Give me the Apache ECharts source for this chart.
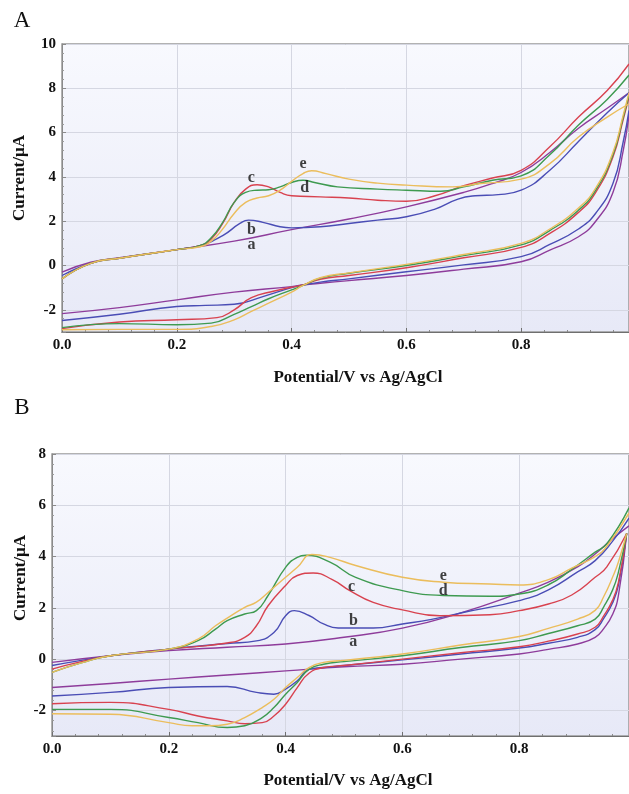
<!DOCTYPE html>
<html><head><meta charset="utf-8">
<script src="https://cdn.jsdelivr.net/npm/echarts@6/dist/echarts.min.js"></script>
<style>html,body{margin:0;padding:0;background:#fff}#c{width:629px;height:794px}</style>
</head><body><div id="c"></div>
<script>
// ---------- Panel A data (Potential V, Current µA) ----------
const A_a_fwd = [[0,-0.3],[0.05,0.15],[0.1,0.35],[0.2,0.72],[0.3,1.1],[0.4,1.62],[0.5,2.1],[0.6,2.65],[0.7,3.3],[0.75,3.7],[0.8,4.2],[0.85,5.1],[0.9,6.2],[0.95,7.1],[0.988,7.8]];
const A_a_rev = [[0.988,6.8],[0.978,5.2],[0.96,3.3],[0.93,2.0],[0.9,1.3],[0.85,0.7],[0.8,0.17],[0.7,-0.16],[0.6,-0.45],[0.5,-0.68],[0.45,-0.8],[0.42,-0.88],[0.4,-0.95],[0.3,-1.2],[0.2,-1.55],[0.1,-1.9],[0,-2.17]];
const A_b_fwd = [[0,-0.45],[0.05,0.1],[0.1,0.33],[0.2,0.72],[0.24,0.9],[0.28,1.35],[0.31,1.9],[0.325,2.05],[0.35,1.95],[0.38,1.75],[0.4,1.7],[0.45,1.75],[0.5,1.9],[0.55,2.05],[0.6,2.2],[0.65,2.55],[0.69,3.0],[0.72,3.15],[0.76,3.2],[0.8,3.4],[0.85,4.3],[0.9,5.6],[0.95,6.9],[0.988,7.8]];
const A_b_rev = [[0.988,7.0],[0.978,5.6],[0.96,3.7],[0.93,2.36],[0.9,1.65],[0.85,0.95],[0.8,0.4],[0.7,0.03],[0.6,-0.28],[0.5,-0.6],[0.45,-0.75],[0.42,-0.88],[0.4,-1.0],[0.35,-1.4],[0.3,-1.75],[0.25,-1.8],[0.2,-1.85],[0.1,-2.2],[0,-2.48]];
const A_c_fwd = [[0,-0.6],[0.05,0.1],[0.1,0.33],[0.2,0.72],[0.24,0.9],[0.26,1.2],[0.28,1.9],[0.3,2.85],[0.32,3.45],[0.34,3.65],[0.36,3.55],[0.38,3.3],[0.4,3.15],[0.45,3.1],[0.5,3.05],[0.55,2.95],[0.6,2.9],[0.65,3.15],[0.7,3.6],[0.75,3.95],[0.8,4.3],[0.85,5.36],[0.9,6.7],[0.95,7.9],[0.988,9.1]];
const A_c_rev = [[0.988,7.6],[0.978,6.6],[0.96,4.9],[0.93,3.3],[0.9,2.4],[0.85,1.45],[0.8,0.82],[0.7,0.35],[0.6,-0.1],[0.5,-0.45],[0.45,-0.62],[0.42,-0.88],[0.4,-0.98],[0.37,-1.15],[0.33,-1.45],[0.3,-2.0],[0.27,-2.35],[0.2,-2.45],[0.1,-2.55],[0,-2.85]];
const A_d_fwd = [[0,-0.6],[0.05,0.1],[0.1,0.33],[0.2,0.72],[0.24,0.9],[0.26,1.25],[0.28,1.95],[0.3,2.85],[0.32,3.3],[0.34,3.4],[0.36,3.42],[0.38,3.55],[0.4,3.75],[0.42,3.85],[0.44,3.75],[0.48,3.55],[0.55,3.45],[0.6,3.4],[0.66,3.35],[0.7,3.55],[0.75,3.85],[0.8,4.05],[0.85,5.0],[0.9,6.34],[0.95,7.5],[0.988,8.6]];
const A_d_rev = [[0.988,7.7],[0.978,6.7],[0.96,5.0],[0.93,3.4],[0.9,2.5],[0.85,1.58],[0.8,0.93],[0.7,0.45],[0.6,0.0],[0.5,-0.35],[0.45,-0.57],[0.42,-0.9],[0.4,-1.1],[0.36,-1.5],[0.33,-1.85],[0.3,-2.2],[0.26,-2.6],[0.2,-2.67],[0.1,-2.62],[0,-2.8]];
const A_e_fwd = [[0,-0.6],[0.05,0.1],[0.1,0.33],[0.2,0.72],[0.24,0.85],[0.26,1.1],[0.28,1.65],[0.3,2.35],[0.32,2.85],[0.34,3.05],[0.36,3.15],[0.38,3.4],[0.4,3.8],[0.42,4.15],[0.435,4.28],[0.46,4.15],[0.5,3.9],[0.55,3.72],[0.6,3.63],[0.68,3.55],[0.73,3.7],[0.8,3.9],[0.85,4.6],[0.9,5.8],[0.95,6.7],[0.988,7.3]];
const A_e_rev = [[0.988,7.8],[0.978,6.8],[0.96,5.1],[0.93,3.5],[0.9,2.6],[0.85,1.65],[0.8,1.0],[0.7,0.5],[0.6,0.05],[0.5,-0.33],[0.45,-0.55],[0.42,-0.9],[0.4,-1.2],[0.36,-1.7],[0.33,-2.07],[0.3,-2.45],[0.26,-2.75],[0.2,-2.88],[0.1,-2.88],[0,-2.9]];
const A_labels = [['a',0.33,0.93],['b',0.33,1.61],['c',0.33,3.94],['d',0.423,3.49],['e',0.42,4.57]];

// ---------- Panel B data ----------
const B_a_fwd = [[0,-0.13],[0.1,0.13],[0.2,0.33],[0.3,0.46],[0.4,0.59],[0.5,0.85],[0.6,1.21],[0.7,1.8],[0.8,2.57],[0.85,3.0],[0.9,3.6],[0.93,4.1],[0.96,4.7],[0.988,5.2]];
const B_a_rev = [[0.984,4.9],[0.97,2.5],[0.96,1.75],[0.945,1.2],[0.93,0.85],[0.9,0.59],[0.85,0.38],[0.8,0.2],[0.7,0.0],[0.6,-0.2],[0.5,-0.3],[0.4,-0.46],[0.3,-0.62],[0.2,-0.78],[0.1,-0.95],[0,-1.11]];
const B_b_fwd = [[0,-0.25],[0.05,-0.05],[0.1,0.13],[0.2,0.39],[0.3,0.61],[0.35,0.71],[0.38,1.04],[0.4,1.69],[0.415,1.89],[0.44,1.7],[0.465,1.37],[0.49,1.21],[0.55,1.21],[0.6,1.37],[0.65,1.55],[0.7,1.8],[0.8,2.28],[0.85,2.7],[0.9,3.4],[0.93,3.84],[0.96,4.6],[0.988,5.5]];
const B_b_rev = [[0.984,4.9],[0.97,2.9],[0.96,2.2],[0.945,1.6],[0.93,1.15],[0.9,0.85],[0.85,0.62],[0.8,0.43],[0.7,0.2],[0.6,-0.03],[0.5,-0.25],[0.465,-0.33],[0.44,-0.4],[0.42,-0.85],[0.4,-1.17],[0.38,-1.37],[0.35,-1.3],[0.3,-1.07],[0.2,-1.11],[0.1,-1.3],[0,-1.44]];
const B_c_fwd = [[0,-0.39],[0.05,-0.1],[0.1,0.13],[0.2,0.39],[0.3,0.63],[0.33,0.85],[0.35,1.3],[0.37,2.08],[0.4,2.87],[0.42,3.26],[0.447,3.36],[0.48,3.1],[0.51,2.67],[0.55,2.21],[0.6,1.92],[0.664,1.69],[0.75,1.73],[0.8,1.89],[0.85,2.15],[0.89,2.5],[0.93,3.19],[0.95,3.6],[0.984,4.9]];
const B_c_rev = [[0.984,4.9],[0.97,3.0],[0.96,2.3],[0.945,1.7],[0.93,1.24],[0.9,0.98],[0.85,0.7],[0.8,0.48],[0.7,0.25],[0.6,0.0],[0.5,-0.25],[0.465,-0.33],[0.44,-0.55],[0.42,-1.11],[0.4,-1.76],[0.38,-2.22],[0.36,-2.48],[0.33,-2.52],[0.3,-2.41],[0.25,-2.22],[0.2,-1.96],[0.1,-1.69],[0,-1.74]];
const B_d_fwd = [[0,-0.52],[0.05,-0.15],[0.1,0.13],[0.2,0.39],[0.25,0.72],[0.28,1.17],[0.3,1.5],[0.33,1.76],[0.35,1.89],[0.37,2.48],[0.4,3.58],[0.42,3.97],[0.435,4.05],[0.476,3.78],[0.52,3.19],[0.6,2.67],[0.67,2.48],[0.75,2.45],[0.8,2.54],[0.85,2.9],[0.89,3.5],[0.93,4.17],[0.95,4.5],[0.988,5.9]];
const B_d_rev = [[0.984,4.9],[0.97,3.4],[0.96,2.7],[0.945,2.05],[0.93,1.56],[0.9,1.3],[0.85,1.0],[0.8,0.72],[0.7,0.45],[0.6,0.13],[0.5,-0.1],[0.465,-0.2],[0.44,-0.4],[0.42,-0.91],[0.4,-1.37],[0.38,-1.89],[0.36,-2.28],[0.33,-2.6],[0.3,-2.67],[0.25,-2.48],[0.2,-2.28],[0.1,-1.96],[0,-1.96]];
const B_e_fwd = [[0,-0.52],[0.05,-0.15],[0.1,0.13],[0.2,0.39],[0.25,0.78],[0.28,1.3],[0.3,1.6],[0.33,2.02],[0.35,2.22],[0.37,2.6],[0.4,3.19],[0.42,3.58],[0.445,4.08],[0.476,3.97],[0.52,3.65],[0.6,3.19],[0.67,3.0],[0.75,2.93],[0.8,2.89],[0.85,3.1],[0.89,3.55],[0.93,4.0],[0.95,4.4],[0.988,5.7]];
const B_e_rev = [[0.984,4.9],[0.97,3.8],[0.96,3.2],[0.945,2.45],[0.93,1.9],[0.9,1.56],[0.85,1.2],[0.8,0.88],[0.7,0.55],[0.6,0.2],[0.5,-0.05],[0.465,-0.13],[0.44,-0.33],[0.42,-0.72],[0.4,-1.11],[0.38,-1.57],[0.36,-1.89],[0.33,-2.28],[0.3,-2.54],[0.27,-2.6],[0.24,-2.6],[0.2,-2.48],[0.1,-2.15],[0,-2.13]];
const B_labels = [['a',0.516,0.69],['b',0.516,1.50],['c',0.513,2.80],['d',0.67,2.67],['e',0.67,3.26]];

// axis ranges
const X_RANGE = [0, 0.988];
const A_Y_RANGE = [-3, 10];
const B_Y_RANGE = [-3, 8];
const X_NAME = 'Potential/V vs Ag/AgCl';
const Y_NAME = 'Current/μA';

const COLORS = {a:'#8E3C9B', b:'#4A4DB5', c:'#D8424F', d:'#3E9A50', e:'#EBBD5C'};
const SERIF = '"Liberation Serif","Times New Roman",serif';

const chart = echarts.init(document.getElementById('c'), null, {renderer:'canvas'});

function bg(){
  return new echarts.graphic.LinearGradient(0,0,0,1,[{offset:0,color:'#f8f9fe'},{offset:1,color:'#e7e9f7'}]);
}
function xAx(gi){
  return {type:'value', gridIndex:gi, min:X_RANGE[0], max:X_RANGE[1], interval:0.2,
    axisLine:{show:true, onZero:false, lineStyle:{color:'#6f6f6f', width:1}},
    axisTick:{show:true, inside:true, length:4, lineStyle:{color:'#6f6f6f'}},
    minorTick:{show:true, splitNumber:5, length:2, lineStyle:{color:'#8a8a8a'}},
    axisLabel:{formatter:v=>v.toFixed(1), showMaxLabel:false, fontFamily:SERIF, fontWeight:'bold', fontSize:15, color:'#111', margin:6},
    splitLine:{show:true, lineStyle:{color:'#d5d7e2', width:1}}};
}
function yAx(gi, rng){
  return {type:'value', gridIndex:gi, min:rng[0], max:rng[1], splitNumber:6, minInterval:2, maxInterval:2,
    axisLine:{show:true, onZero:false, lineStyle:{color:'#8a8a8a', width:1}},
    axisTick:{show:true, inside:true, length:4, lineStyle:{color:'#8a8a8a'}},
    minorTick:{show:true, splitNumber:5, length:2, lineStyle:{color:'#9a9a9a'}},
    axisLabel:{showMinLabel:false, fontFamily:SERIF, fontWeight:'bold', fontSize:15, color:'#111', margin:6},
    splitLine:{show:true, lineStyle:{color:'#d5d7e2', width:1}}};
}
function line(gi, key, d){
  return {type:'line', xAxisIndex:gi, yAxisIndex:gi, data:d, symbol:'none', showSymbol:false,
    smooth:0.5, clip:true, silent:true,
    lineStyle:{color:COLORS[key], width:1.4}, z:3};
}
function labels(gi, arr){
  return {type:'scatter', xAxisIndex:gi, yAxisIndex:gi, symbolSize:0, silent:true, z:5,
    data:arr.map(l=>({name:l[0], value:[l[1], l[2]]})),
    label:{show:true, position:'inside', formatter:'{b}', fontFamily:SERIF, fontWeight:'bold', fontSize:16, color:'#111'}};
}

const series = [];
[['a',A_a_fwd,A_a_rev],['b',A_b_fwd,A_b_rev],['c',A_c_fwd,A_c_rev],['d',A_d_fwd,A_d_rev],['e',A_e_fwd,A_e_rev]].forEach(s=>{
  series.push(line(0,s[0],s[1])); series.push(line(0,s[0],s[2]));
});
[['a',B_a_fwd,B_a_rev],['b',B_b_fwd,B_b_rev],['c',B_c_fwd,B_c_rev],['d',B_d_fwd,B_d_rev],['e',B_e_fwd,B_e_rev]].forEach(s=>{
  series.push(line(1,s[0],s[1])); series.push(line(1,s[0],s[2]));
});
series.push(labels(0, A_labels));
series.push(labels(1, B_labels));

const txt = (x,y,t,size,weight,rot)=>({type:'text', x:x, y:y, rotation:rot||0, silent:true, z:10,
  style:{text:t, fill:'#111', font:(weight||'normal')+' '+size+'px '+SERIF, textAlign:'center', textVerticalAlign:'middle'}});

chart.setOption({
  animation:false,
  backgroundColor:'#ffffff',
  grid:[
    {left:62, top:44, width:567, height:288, show:true, backgroundColor:bg(), borderColor:'#999999', borderWidth:1.5, outerBoundsMode:'none', containLabel:false},
    {left:52, top:454, width:577, height:282, show:true, backgroundColor:bg(), borderColor:'#999999', borderWidth:1.5, outerBoundsMode:'none', containLabel:false}
  ],
  xAxis:[xAx(0), xAx(1)],
  yAxis:[yAx(0, A_Y_RANGE), yAx(1, B_Y_RANGE)],
  series:series,
  graphic:[
    txt(22,21,'A',23,'normal'),
    txt(22,408,'B',23,'normal'),
    txt(20,178,Y_NAME,17,'bold',Math.PI/2),
    txt(21,578,Y_NAME,17,'bold',Math.PI/2),
    txt(358,378,X_NAME,17,'bold'),
    txt(348,781,X_NAME,17,'bold')
  ]
});
</script></body></html>
